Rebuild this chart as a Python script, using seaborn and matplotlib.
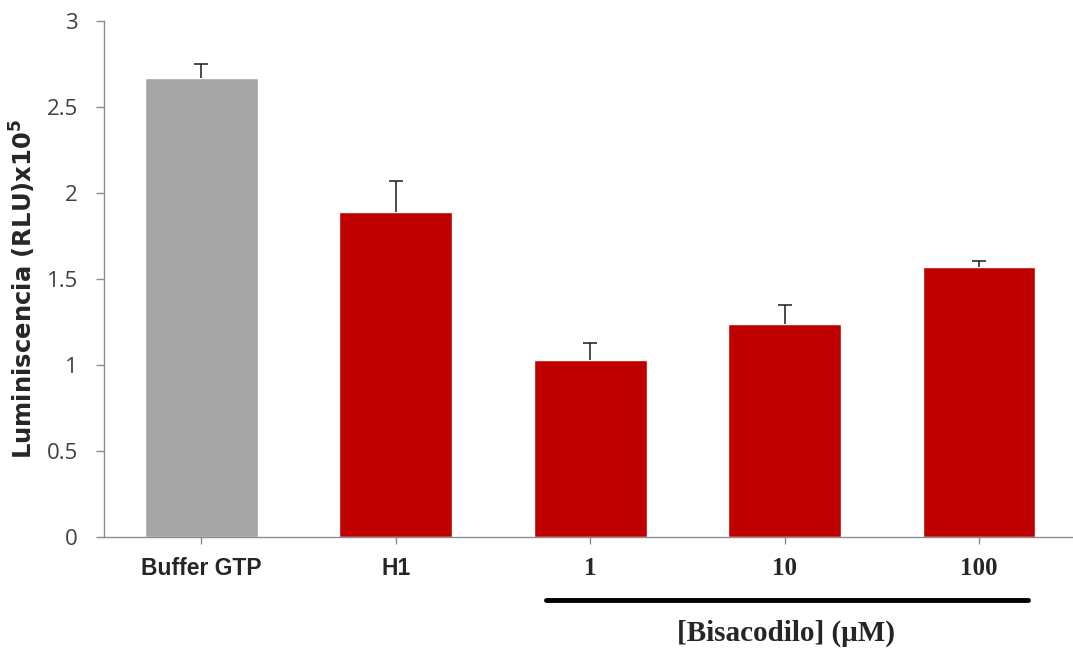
import numpy as np
import pandas as pd
import matplotlib
matplotlib.use("Agg")
import matplotlib.pyplot as plt
import seaborn as sns

# Data
categories = ["Buffer GTP", "H1", "1", "10", "100"]
values = [2.67, 1.89, 1.03, 1.24, 1.57]
errors = [0.08, 0.18, 0.10, 0.11, 0.035]
bar_colors = ["#A6A6A6", "#C00000", "#C00000", "#C00000", "#C00000"]
yticks = [0, 0.5, 1, 1.5, 2, 2.5, 3]
ytick_labels = ["0", "0.5", "1", "1.5", "2", "2.5", "3"]

df = pd.DataFrame({"cond": categories, "lum": values})

sns.set_style("white")
plt.rcParams["font.family"] = ["Liberation Sans", "DejaVu Sans"]

fig = plt.figure(figsize=(10.73, 6.48), dpi=100)
ax = fig.add_axes([0.097, 0.171, 0.906, 0.797])

sns.barplot(data=df, x="cond", y="lum", hue="cond", palette=bar_colors,
            legend=False, width=0.58, ax=ax, saturation=1)

# upper-only error bars, cap on top
x = np.arange(len(categories))
eb = ax.errorbar(x, values, yerr=[np.zeros(len(errors)), errors], fmt="none",
                 ecolor="#1a1a1a", elinewidth=1.1, capsize=4.7, capthick=1.1)
eb[1][0].set_visible(False)

ax.set_ylim(0, 3)
ax.set_xlim(-0.5, 4.5)
ax.set_yticks(yticks)
ax.set_yticklabels(ytick_labels, fontsize=16, color="#404040", family="Open Sans")
ax.set_ylabel("Luminiscencia (RLU)x10$^\\mathbf{5}$", fontsize=17.5, fontweight="bold",
              family="DejaVu Sans")
ax.yaxis.set_label_coords(-0.068, 0.48)
ax.set_xlabel("")

ax.set_xticks(x)
ax.set_xticklabels([])
for i, lab in enumerate(categories):
    if i < 2:
        ax.text(i, -0.18, lab, ha="center", va="center", fontsize=16.5,
                fontweight="bold")
    else:
        ax.text(i, -0.18, lab, ha="center", va="center", fontsize=18,
                fontweight="bold", family="Liberation Serif")

for s in ["top", "right"]:
    ax.spines[s].set_visible(False)
for s in ["left", "bottom"]:
    ax.spines[s].set_color("#8C8C8C")
    ax.spines[s].set_linewidth(1)
ax.tick_params(axis="y", left=True, direction="out", length=6, color="#8C8C8C",
               width=1, pad=13)
ax.tick_params(axis="x", bottom=True, direction="out", length=5, color="#8C8C8C",
               width=1)

# bracket line and group label under the Bisacodilo doses
fig.add_artist(plt.Line2D([546 / 1073, 1028 / 1073], [1 - 600 / 648, 1 - 600 / 648],
                          color="black", linewidth=3.5))
fig.text(786 / 1073, 1 - 633 / 648, "[Bisacodilo] (\u03bcM)", ha="center", va="center",
         fontsize=21, fontweight="bold", family="Liberation Serif")

plt.savefig("out.png", dpi=100)
plt.close()
